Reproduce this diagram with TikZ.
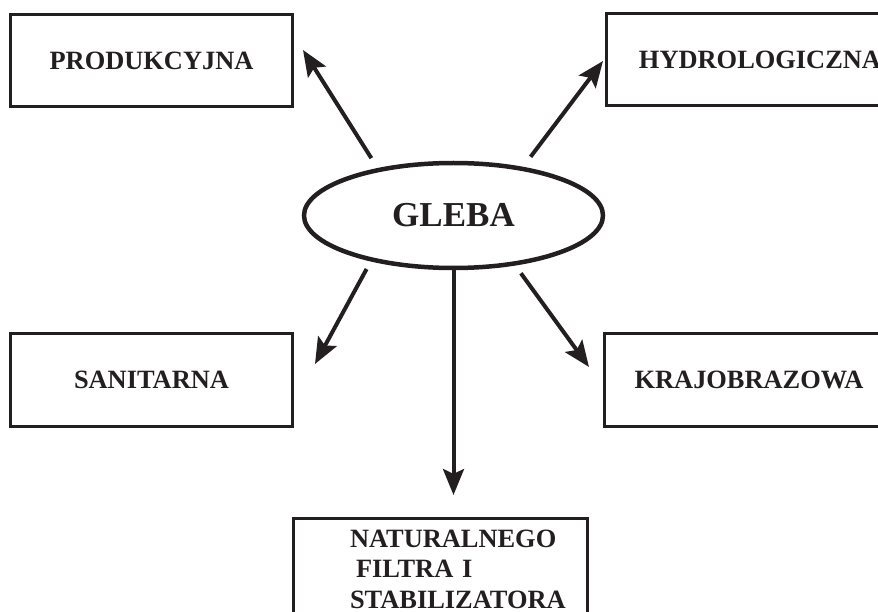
\documentclass[tikz,border=0pt]{standalone}
\usepackage{fontspec}
\setmainfont{Liberation Serif}
\usetikzlibrary{arrows.meta,shapes.geometric}
\definecolor{ink}{HTML}{231F20}

\begin{document}
\begin{tikzpicture}[x=1pt, y=-1pt, >={Stealth[length=26pt, width=21pt, inset=5pt]},
    func/.style={draw=ink, line width=3pt, text=ink, minimum width=282pt, minimum height=92pt,
        font=\bfseries\fontsize{26.4}{30.5}\selectfont},
    soil/.style={draw=ink, ellipse, line width=4.5pt, text=ink, inner sep=0pt,
        minimum width=299pt, minimum height=105pt, font=\bfseries\fontsize{35}{40}\selectfont},
    link/.style={->, draw=ink, line width=4pt}]
    \useasboundingbox (0,0) rectangle (878,612);
    \clip (0,0) rectangle (878,612);
    % Nodes (soil and its functions)
    \node[soil] (gleba) at (453.5,215.5) {GLEBA};
    \node[func] (produkcyjna) at (151.5,60.5) {PRODUKCYJNA};
    \node[func, minimum width=307pt] (hydrologiczna) at (760,59.5) {HYDROLOGICZNA};
    \node[func, minimum height=93pt] (sanitarna) at (151.5,380) {SANITARNA};
    \node[func, minimum width=289pt, minimum height=93pt] (krajobrazowa) at (749,380) {KRAJOBRAZOWA};
    \node[func, anchor=north, text width=181pt, inner xsep=56.5pt, inner ysep=11.5pt, align=left] (filtr) at (440.5,517)
        {\mbox{NATURALNEGO}\\\mbox{\hspace*{6pt}FILTRA I}\\\mbox{STABILIZATORA}};
    % Arrows
    \draw[link, shorten <=11.7pt] (gleba.148.7) -- ([xshift=9pt, yshift=10.5pt]produkcyjna.east);
    \draw[link, shorten <=12.6pt] (gleba.35.1) -- ([xshift=-2pt, yshift=-1.5pt]hydrologiczna.west);
    \draw[link, shorten <=8.7pt] (gleba.209.4) -- ([xshift=21pt, yshift=16pt]sanitarna.east);
    \draw[link, shorten <=9.6pt] (gleba.321.2) -- ([xshift=-14pt, yshift=13pt]krajobrazowa.west);
    \draw[link, shorten >=22pt] (gleba.south) -- (gleba.south |- filtr.north);
\end{tikzpicture}
\end{document}
